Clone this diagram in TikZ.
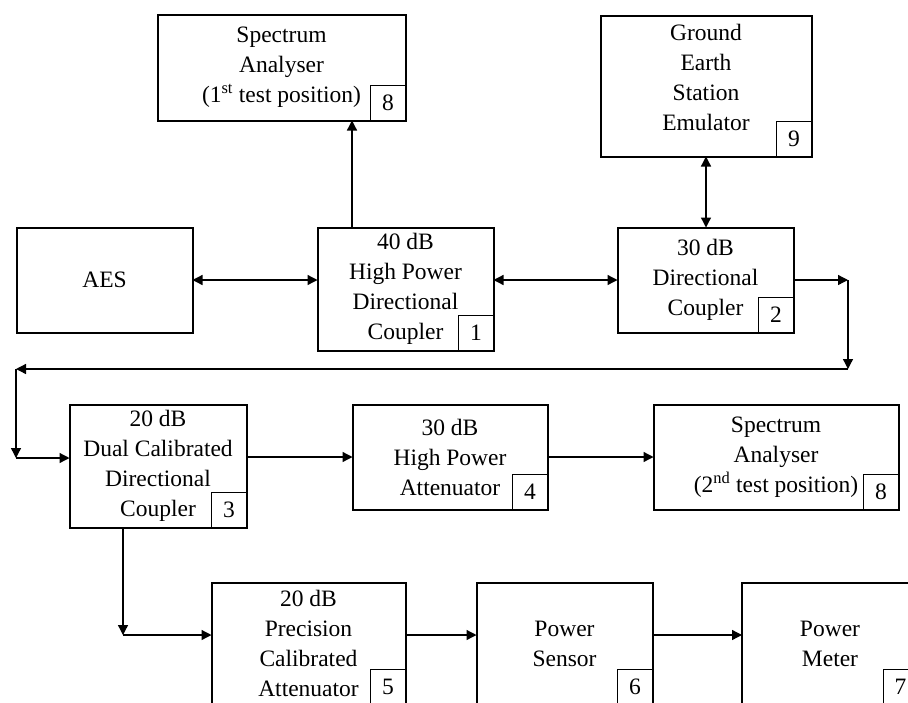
\documentclass[tikz,border=0pt]{standalone}
\usepackage{fontspec}
\setmainfont{Liberation Serif}
\usetikzlibrary{arrows.meta}
\begin{document}
\begin{tikzpicture}
[x=1pt,y=-1pt,
device box/.style={draw,line width=2pt,align=center,inner sep=0pt,outer sep=0pt,font=\fontsize{23.5}{30}\selectfont},
number box/.style={draw,line width=1pt,minimum size=35pt,inner sep=0pt,outer sep=0pt,anchor=south east,font=\fontsize{23.5}{30}\selectfont},
signal/.style={line width=1.3pt,-{Triangle[length=10pt,width=10pt]}},
both signal/.style={line width=1.3pt,{Triangle[length=10pt,width=10pt]}-{Triangle[length=10pt,width=10pt]}}]
\useasboundingbox (0,0) rectangle (908,702);
\clip (0,0) rectangle (908,702);
% top row
\node[device box,minimum width=248pt,minimum height=106pt] (analyser1) at (281.5,67.5) {Spectrum\\Analyser\\(1\textsuperscript{st} test position)};
\node[device box,minimum width=211pt,minimum height=141pt] (emulator) at (706,86) {Ground\\Earth\\Station\\Emulator\\[-12pt]};
\node[device box,minimum width=176pt,minimum height=105pt] (aes) at (104.5,280) {AES};
\node[device box,minimum width=176pt,minimum height=123pt] (coupler1) at (405.5,289) {40 dB\\High Power\\Directional\\Coupler};
\node[device box,minimum width=176pt,minimum height=105pt] (coupler2) at (705.5,280) {30 dB\\Directional\\Coupler};
% middle row
\node[device box,minimum width=177pt,minimum height=123pt] (coupler3) at (158,466) {20 dB\\Dual Calibrated\\Directional\\Coupler};
\node[device box,minimum width=195pt,minimum height=105pt] (attenuator4) at (450,457) {30 dB\\High Power\\Attenuator};
\node[device box,minimum width=245pt,minimum height=105pt] (analyser2) at (776,457) {Spectrum\\Analyser\\(2\textsuperscript{nd} test position)};
% bottom row
\node[device box,minimum width=194pt,minimum height=122pt] (attenuator5) at (308.5,643.5) {20 dB\\Precision\\Calibrated\\Attenuator};
\node[device box,minimum width=176pt,minimum height=122pt] (sensor) at (564.5,643.5) {Power\\Sensor};
\node[device box,minimum width=176pt,minimum height=122pt] (meter) at (830,643.5) {Power\\Meter};
% numbers
\node[number box] at (analyser1.south east) {8};
\node[number box] at (emulator.south east) {9};
\node[number box] at (coupler1.south east) {1};
\node[number box] at (coupler2.south east) {2};
\node[number box] at (coupler3.south east) {3};
\node[number box] at (attenuator4.south east) {4};
\node[number box] at (analyser2.south east) {8};
\node[number box] at (attenuator5.south east) {5};
\node[number box] at (sensor.south east) {6};
\node[number box] at (meter.south east) {7};
% connections
\coordinate (turn1) at (848,280);
\coordinate (turn2) at (848,369);
\coordinate (turn3) at (16,369);
\coordinate (turn4) at (16,458);
\coordinate (turn5) at (123,635);
\draw[both signal] (aes.east) -- (aes.east -| coupler1.west);
\draw[both signal] (coupler2.west -| coupler1.east) -- (coupler2.west);
\draw[signal] ([xshift=-53.5pt]coupler1.north) -- ([xshift=-53.5pt]coupler1.north |- analyser1.south);
\draw[both signal] (emulator.south) -- (emulator.south |- coupler2.north);
\draw[signal] (coupler2.east) -- (turn1);
\draw[signal] (turn1) -- (turn2);
\draw[signal] (turn2) -- (turn3);
\draw[signal] (turn3) -- (turn4);
\draw[signal] (turn4) -- (turn4 -| coupler3.west);
\draw[signal] (attenuator4.west -| coupler3.east) -- (attenuator4.west);
\draw[signal] (attenuator4.east) -- (analyser2.west);
\draw[signal] (turn5 |- coupler3.south) -- (turn5);
\draw[signal] (turn5) -- (turn5 -| attenuator5.west);
\draw[signal] (turn5 -| attenuator5.east) -- (turn5 -| sensor.west);
\draw[signal] (turn5 -| sensor.east) -- (turn5 -| meter.west);
\end{tikzpicture}
\end{document}
